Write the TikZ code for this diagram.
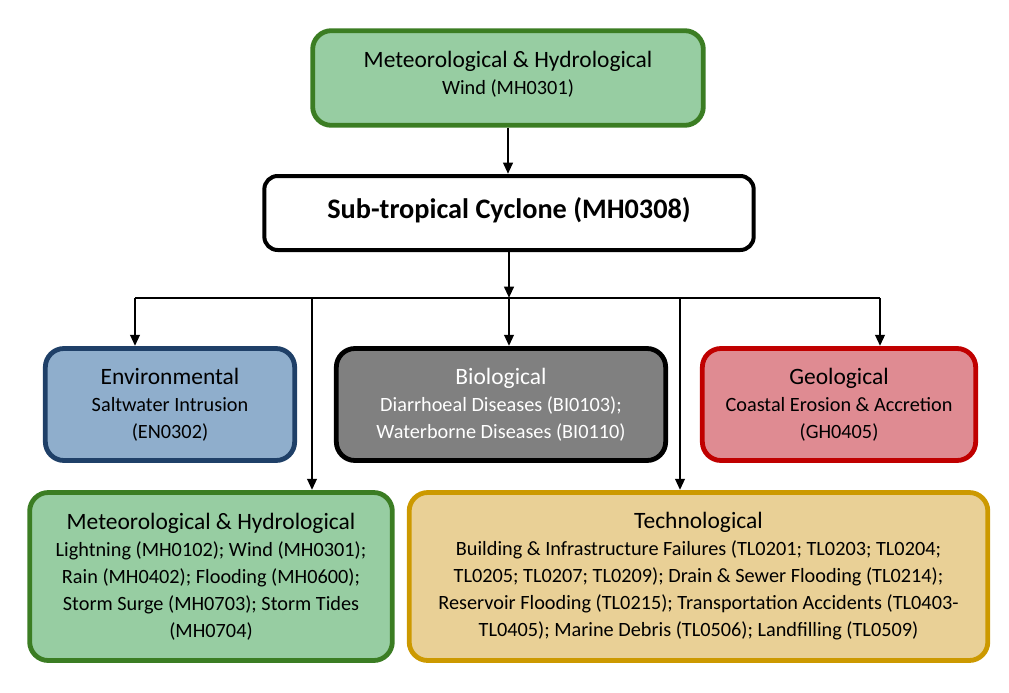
\documentclass[tikz,border=0pt]{standalone}
\usepackage{fontspec}
\setmainfont{Carlito}
\usetikzlibrary{arrows.meta}
\definecolor{gfill}{RGB}{151,205,162}
\definecolor{gdraw}{RGB}{59,125,35}
\definecolor{bfill}{RGB}{143,174,204}
\definecolor{bdraw}{RGB}{31,64,104}
\definecolor{grfill}{RGB}{128,128,128}
\definecolor{pfill}{RGB}{223,139,146}
\definecolor{pdraw}{RGB}{192,0,0}
\definecolor{yfill}{RGB}{233,208,150}
\definecolor{ydraw}{RGB}{204,153,0}
\tikzset{
  box/.style={rectangle, rounded corners=14pt, line width=3.6pt, align=center,
    font=\fontsize{15.2}{20.25}\selectfont, inner sep=0pt},
  conn/.style={line width=2.1pt, draw=black},
  arr/.style={conn, -{Triangle[width=7pt,length=8.5pt]}},
}
\newcommand{\hd}[1]{{\fontsize{17.6}{20.25}\selectfont #1}}
\begin{document}
\begin{tikzpicture}[x=0.75pt,y=-0.75pt]
\useasboundingbox (0,0) rectangle (1009,692);
\node[box, fill=gfill, draw=gdraw, minimum width=293pt, minimum height=71pt] (top) at (508,78)
  {\hd{Meteorological \& Hydrological}\\Wind (MH0301)\\[-12.75pt]};
\node[box, fill=white, draw=black, line width=3pt, rounded corners=10pt, minimum width=367pt, minimum height=55.5pt,
  font=\fontsize{21.2}{22}\selectfont\bfseries] (cyc) at (509,213) {Sub-tropical Cyclone (MH0308)\\[-14.5pt]};
\node[box, fill=bfill, draw=bdraw, minimum width=187pt, minimum height=84pt] (env) at (170,404.5)
  {\hd{Environmental}\\Saltwater Intrusion\\(EN0302)};
\node[box, fill=grfill, draw=black, text=white, minimum width=247pt, minimum height=84pt] (bio) at (501,404.5)
  {\hd{Biological}\\Diarrhoeal Diseases (BI0103);\\Waterborne Diseases (BI0110)};
\node[box, fill=pfill, draw=pdraw, minimum width=205pt, minimum height=84pt] (geo) at (839,404.5)
  {\hd{Geological}\\Coastal Erosion \& Accretion\\(GH0405)};
\node[box, fill=gfill, draw=gdraw, minimum width=272pt, minimum height=126pt] (mh) at (211,576.5)
  {\hd{Meteorological \& Hydrological}\\Lightning (MH0102); Wind (MH0301);\\Rain (MH0402); Flooding (MH0600);\\Storm Surge (MH0703); Storm Tides\\(MH0704)};
\node[box, fill=yfill, draw=ydraw, minimum width=434pt, minimum height=126pt] (tech) at (698.5,576.5)
  {\hd{Technological}\\Building \& Infrastructure Failures (TL0201; TL0203; TL0204;\\TL0205; TL0207; TL0209); Drain \& Sewer Flooding (TL0214);\\Reservoir Flooding (TL0215); Transportation Accidents (TL0403-\\TL0405); Marine Debris (TL0506); Landfilling (TL0509)};
\coordinate (busL) at (135,298);
\coordinate (bus2) at (312,298);
\coordinate (busM) at (509,298);
\coordinate (bus4) at (680,298);
\coordinate (busR) at (880,298);
\draw[arr] (top.south) -- (top.south |- cyc.north);
\draw[arr] (cyc.south) -- (busM);
\draw[conn] (busL) -- (busR);
\draw[arr] (busL) -- (busL |- env.north);
\draw[arr] (bus2) -- (bus2 |- mh.north);
\draw[arr] (busM) -- (busM |- bio.north);
\draw[arr] (bus4) -- (bus4 |- tech.north);
\draw[arr] (busR) -- (busR |- geo.north);
\end{tikzpicture}
\end{document}
